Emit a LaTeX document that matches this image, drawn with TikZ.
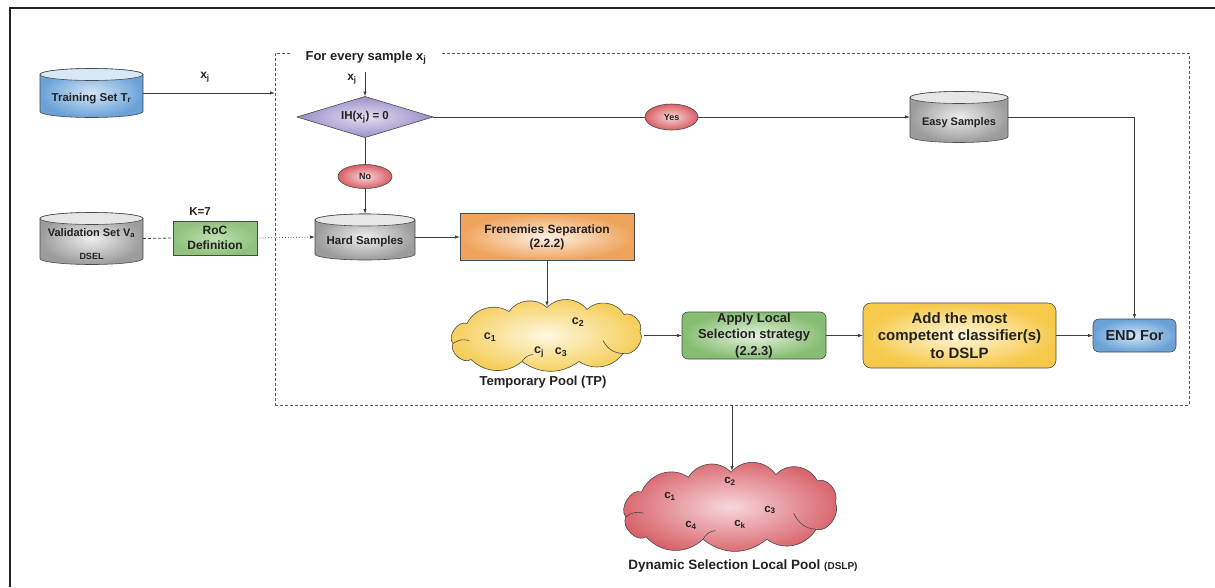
\documentclass[tikz,border=0pt]{standalone}
\usepackage{fontspec}
\setmainfont{Liberation Sans}
\usetikzlibrary{shapes.geometric,arrows.meta,calc,backgrounds}
\definecolor{txt}{HTML}{222222}
\definecolor{linec}{HTML}{3F3F3F}
\definecolor{framec}{HTML}{222222}
\definecolor{loopc}{HTML}{5A5A5A}
\definecolor{bdr}{HTML}{4A4A4A}
\definecolor{blueout}{HTML}{6AA2D8}
\definecolor{bluein}{HTML}{D2E5F6}
\definecolor{bluetop}{HTML}{D8E8F6}
\definecolor{grayout}{HTML}{9C9C9C}
\definecolor{grayin}{HTML}{EEEEEE}
\definecolor{graytop}{HTML}{E6E6E6}
\definecolor{purpout}{HTML}{9B8EC8}
\definecolor{purpin}{HTML}{E4DEF2}
\definecolor{redout}{HTML}{D95F66}
\definecolor{redin}{HTML}{F8D8DA}
\definecolor{orout}{HTML}{EFA35C}
\definecolor{orin}{HTML}{FDF0E4}
\definecolor{grout}{HTML}{86BD72}
\definecolor{grin}{HTML}{E6F2E0}
\definecolor{rocout}{HTML}{8FC27C}
\definecolor{rocin}{HTML}{BFDFB2}
\definecolor{yelout}{HTML}{F6C94A}
\definecolor{yelin}{HTML}{FFF7DC}
\definecolor{tpout}{HTML}{F5CD55}
\definecolor{tpin}{HTML}{FFF7E0}
\definecolor{dsout}{HTML}{D9636B}
\definecolor{dsin}{HTML}{F6D8DB}
\newcommand{\myfs}[2]{\fontsize{#1}{#2}\selectfont}
% #1 node, #2 rx, #3 ry, #4 body shading, #5 top colour
\newcommand{\cylshape}[5]{%
  \begin{scope}[on background layer]
    \shade[#4, draw=bdr, line width=0.6pt] (#1.north west) -- (#1.south west)
      arc[start angle=180, end angle=360, x radius=#2, y radius=#3]
      -- (#1.north east)
      arc[start angle=0, end angle=180, x radius=#2, y radius=#3] -- cycle;
    \filldraw[fill=#5, draw=bdr, line width=0.6pt] (#1.north) ellipse[x radius=#2, y radius=#3];
  \end{scope}}
% #1 node, #2 xscale, #3 yscale, #4 shading
\newcommand{\cloudshape}[4]{%
  \begin{scope}[on background layer, shift={(#1.center)}, xscale=#2, yscale=#3]
    \shade[#4, draw=bdr, line width=0.6pt]
      (-80,12) to[bend right=78] (-94,-8) to[bend right=76] (-76,-24)
      to[bend right=42] (-25,-26) to[bend right=36] (32,-26)
      to[bend right=44] (76,-18) to[bend right=68] (93,4)
      to[bend right=70] (77,21) to[bend right=54] (40,26)
      to[bend right=50] (0,28) to[bend right=50] (-38,24)
      to[bend right=48] (-80,12) -- cycle;
    \draw[bdr, line width=0.6pt] (-94,-8) to[bend left=25] (-78,-5);
    \draw[bdr, line width=0.6pt] (76,-18) to[bend left=30] (56,-5);
    \draw[bdr, line width=0.6pt] (-25,-26) to[bend left=25] (-14,-19);
  \end{scope}}
\begin{document}
\begin{tikzpicture}[x=1pt, y=1pt,
  every node/.style={text=txt},
  cylbox/.style={rectangle, inner sep=0pt, outer sep=0pt, align=center},
  arr/.style={draw=linec, line width=0.8pt, -{Latex[length=5pt,width=3.5pt]}},
  conn/.style={draw=linec, line width=0.8pt},
  box/.style={draw=bdr, line width=0.6pt, align=center, inner sep=0pt, outer sep=0pt},
  oval/.style={ellipse, draw=bdr, line width=0.6pt, inner sep=0pt, outer sep=0pt,
    inner color=redin, outer color=redout, font=\bfseries\myfs{9}{11}},
  cloudbox/.style={rectangle, inner sep=0pt, outer sep=0pt},
  cl/.style={font=\bfseries\myfs{12.5}{14}, inner sep=0pt},
  dcl/.style={font=\bfseries\myfs{11.5}{13}, inner sep=0pt}
]
\useasboundingbox (0,0) rectangle (1215,-587);
% outer frame
\draw[line width=1.3pt, draw=framec] (10,-587) -- (10,-8) -- (1215,-8);

% loop frame
\node[draw=loopc, dash pattern=on 3pt off 2pt, line width=0.7pt, minimum width=914,
  minimum height=352, inner sep=0pt, outer sep=0pt] (loop) at (732,-229) {};
\node[fill=white, inner xsep=14pt, inner ysep=2pt, font=\bfseries\myfs{13}{15}] (title)
  at (366,-58) {For every sample x\textsubscript{j}};

% cylinders
\node[cylbox, minimum width=103, minimum height=37, text height=16pt, text depth=0pt,
  font=\bfseries\myfs{11.5}{13}] (tr) at (91.5,-93) {Training Set T\textsubscript{r}};
\cylshape{tr}{51.5}{6}{inner color=bluein, outer color=blueout}{bluetop}

\node[cylbox, minimum width=103, minimum height=40, text height=0pt, text depth=5pt,
  font=\bfseries\myfs{11}{13}] (val) at (91.5,-238.5) {Validation Set V\textsubscript{a}};
\cylshape{val}{51.5}{6}{inner color=grayin, outer color=grayout}{graytop}
\node[font=\bfseries\myfs{9}{10}] (dsel) at (91.5,-256) {DSEL};

\node[cylbox, minimum width=100, minimum height=34, text height=14pt, text depth=0pt,
  font=\bfseries\myfs{11.5}{13}] (hard) at (365,-237) {Hard Samples};
\cylshape{hard}{50}{6}{inner color=grayin, outer color=grayout}{graytop}

\node[cylbox, minimum width=98, minimum height=39, text height=16pt, text depth=0pt,
  font=\bfseries\myfs{11}{13}] (easy) at (959,-117) {Easy Samples};
\cylshape{easy}{49}{6}{inner color=grayin, outer color=grayout}{graytop}

% decision
\node[diamond, aspect=3.4, minimum width=136, minimum height=41, inner sep=0pt,
  outer sep=0pt, draw=bdr, line width=0.6pt, inner color=purpin, outer color=purpout,
  font=\bfseries\myfs{11.5}{13}] (dia) at (365,-117) {IH(x\textsubscript{j}) = 0};
\node[oval, minimum width=53, minimum height=26] (yes) at (671.5,-117) {Yes};
\node[oval, minimum width=54, minimum height=24] (no) at (365,-176.5) {No};

% boxes
\node[box, minimum width=84, minimum height=34, inner color=rocin, outer color=rocout,
  font=\bfseries\myfs{12}{15}] (roc) at (215,-238) {RoC\\Definition};
\node[font=\bfseries\myfs{11.5}{13}] (k7) at (200,-212) {K=7};
\node[box, minimum width=174, minimum height=47, inner color=orin, outer color=orout,
  font=\bfseries\myfs{12}{14}] (fren) at (547,-237) {Frenemies Separation\\(2.2.2)};
\node[box, rounded corners=6pt, minimum width=144, minimum height=47, inner color=grin,
  outer color=grout, font=\bfseries\myfs{13}{16.5}] (apply) at (754,-335.5)
  {Apply Local\\Selection strategy\\(2.2.3)};
\node[box, rounded corners=8pt, minimum width=193, minimum height=65, inner color=yelin,
  outer color=yelout, font=\bfseries\myfs{15}{17.5}] (add) at (959.5,-335.5)
  {Add the most\\competent classifier(s)\\to DSLP};
\node[box, rounded corners=6pt, minimum width=83, minimum height=33, inner color=bluein,
  outer color=blueout, font=\bfseries\myfs{14.5}{16}] (endf) at (1134.5,-335.5) {END For};

% clouds
\node[cloudbox, minimum width=194, minimum height=58] (tp) at (547,-335.5) {};
\cloudshape{tp}{1}{1}{inner color=tpin, outer color=tpout}
\node[cl] (tc1) at (490,-337) {c\textsubscript{1}};
\node[cl] (tc2) at (578,-322) {c\textsubscript{2}};
\node[cl] (tcj) at (539,-352) {c\textsubscript{j}};
\node[cl] (tc3) at (561,-352) {c\textsubscript{3}};
\node[font=\bfseries\myfs{13}{15}] (tplab) at (543,-382) {Temporary Pool (TP)};

\node[cloudbox, minimum width=217, minimum height=72] (dslp) at (731,-507) {};
\cloudshape{dslp}{1.12}{1.24}{inner color=dsin, outer color=dsout}
\node[dcl] (dc1) at (670,-496) {c\textsubscript{1}};
\node[dcl] (dc2) at (730,-481) {c\textsubscript{2}};
\node[dcl] (dc3) at (770,-510) {c\textsubscript{3}};
\node[dcl] (dc4) at (691,-525) {c\textsubscript{4}};
\node[dcl] (dck) at (740,-524) {c\textsubscript{k}};
\node[font=\bfseries\myfs{13.5}{15}] (dslab) at (743,-566)
  {Dynamic Selection Local Pool {\myfs{10}{12}(DSLP)}};

% connectors
\draw[arr] (tr.east) -- (tr.east -| loop.west);
\node[font=\bfseries\myfs{12}{14}] (xj1) at (205,-77) {x\textsubscript{j}};
\coordinate (xin) at (365,-72);
\draw[arr] (xin) -- (dia.north);
\node[font=\bfseries\myfs{12}{14}] (xj2) at (352,-79) {x\textsubscript{j}};
\draw[conn] (dia.east) -- (yes.west);
\draw[arr] (yes.east) -- (easy.west);
\draw[arr] (easy.east) -| (endf.north);
\draw[conn] (dia.south) -- (no.north);
\draw[arr] (no.south) -- ($(hard.north)+(0,6)$);
\draw[conn, dash pattern=on 3pt off 2pt] (val.east) -- (roc.west);
\draw[arr, dotted] (roc.east) -- (hard.west);
\draw[arr] (hard.east) -- (fren.west);
\draw[arr] (fren.south) -- (tp.north);
\draw[arr] (tp.east) -- (apply.west);
\draw[arr] (apply.east) -- (add.west);
\draw[arr] (add.east) -- (endf.west);
\draw[arr] (loop.south) -- (loop.south |- dslp.north);
\end{tikzpicture}
\end{document}
